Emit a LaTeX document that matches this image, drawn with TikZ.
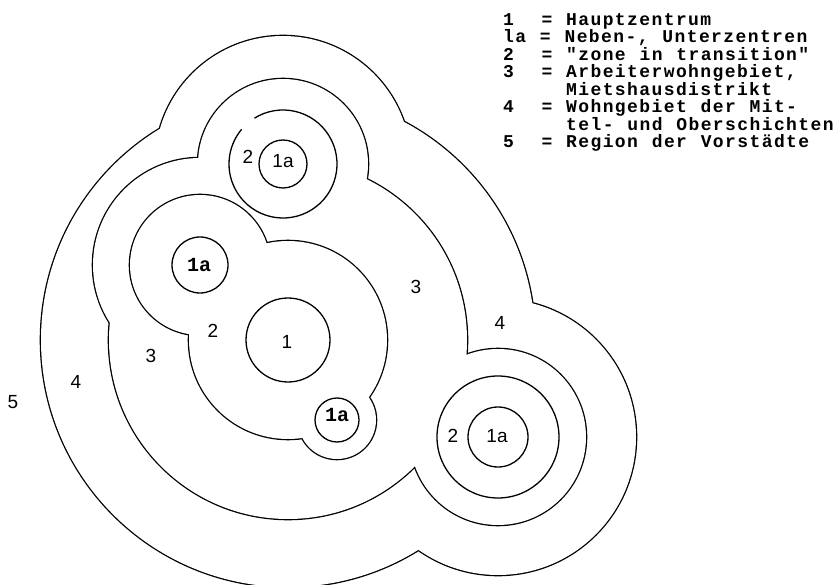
\documentclass[tikz,border=0pt]{standalone}
\usepackage{fontspec}
\setmainfont{Liberation Sans}
\setmonofont{Liberation Mono}
\newfontfamily\legendfont{Liberation Mono}[LetterSpace=7.8,WordSpace=1.13]

\begin{document}
\begin{tikzpicture}[x=1pt,y=-1pt,
  zoneline/.style={line width=2.6pt},
  zonefill/.style={fill=white},
  ring/.style={line width=1.3pt},
  num/.style={inner sep=0pt,font=\fontsize{19}{19}\selectfont},
  sub/.style={inner sep=0pt,font=\ttfamily\bfseries\fontsize{20}{20}\selectfont},
  key/.style={anchor=north west,inner sep=0pt,align=left,font=\legendfont\bfseries\fontsize{18}{17.5}\selectfont}]
\path[use as bounding box] (0,0) rectangle (838,585);
% centres of the cores
\coordinate (cMain) at (288,340);
\coordinate (cTop) at (283,164);
\coordinate (cUL) at (200,265);
\coordinate (cLow) at (337,420);
\coordinate (cBR) at (498,437);
% outer edge of zone 4
\draw[zoneline] (cMain) circle[radius=247] (cTop) circle[radius=128] (cBR) circle[radius=138];
\fill[zonefill] (cMain) circle[radius=247] (cTop) circle[radius=128] (cBR) circle[radius=138];
% outer edge of zone 3
\draw[zoneline] (cMain) circle[radius=179] (cTop) circle[radius=85] (cUL) circle[radius=107] (cBR) circle[radius=88];
\fill[zonefill] (cMain) circle[radius=179] (cTop) circle[radius=85] (cUL) circle[radius=107] (cBR) circle[radius=88];
% outer edge of zone 2
\draw[zoneline] (cMain) circle[radius=99] (cUL) circle[radius=70] (cLow) circle[radius=39];
\fill[zonefill] (cMain) circle[radius=99] (cUL) circle[radius=70] (cLow) circle[radius=39];
\draw[ring] (cTop) ++(-122:54) arc[start angle=-122,end angle=220,radius=54];
\draw[ring] (cBR) circle[radius=61];
% cores
\draw[ring] (cMain) circle[radius=42];
\draw[ring] (cUL) circle[radius=28];
\draw[ring] (cLow) circle[radius=22];
\draw[ring] (cTop) circle[radius=24];
\draw[ring] (cBR) circle[radius=30];
% zone numbers
\node[num] (n1) at (287,342) {1};
\node[num] (n2) at (213,331) {2};
\node[num] (n3left) at (151,356) {3};
\node[num] (n4left) at (76,382) {4};
\node[num] (n5) at (13,402) {5};
\node[num] (n3right) at (416,287) {3};
\node[num] (n4right) at (500,323) {4};
\node[num] (n2top) at (248,157) {2};
\node[num] (n2br) at (453,436) {2};
\node[sub] (sUL) at (199,265) {1a};
\node[sub] (sLow) at (337,415) {1a};
\node[num] (sTop) at (283,161) {1a};
\node[num] (sBR) at (497,436) {1a};
% legend
\node[key] (legend) at (503,13) {1~~=~Hauptzentrum\\
la~=~Neben-,~Unterzentren\\
2~~=~"zone~in~transition"\\
3~~=~Arbeiterwohngebiet,\\
\hphantom{3~~=~}Mietshausdistrikt\\
4~~=~Wohngebiet~der~Mit-\\
\hphantom{4~~=~}tel-~und~Oberschichten\\
5~~=~Region~der~Vorstädte};
\end{tikzpicture}
\end{document}
